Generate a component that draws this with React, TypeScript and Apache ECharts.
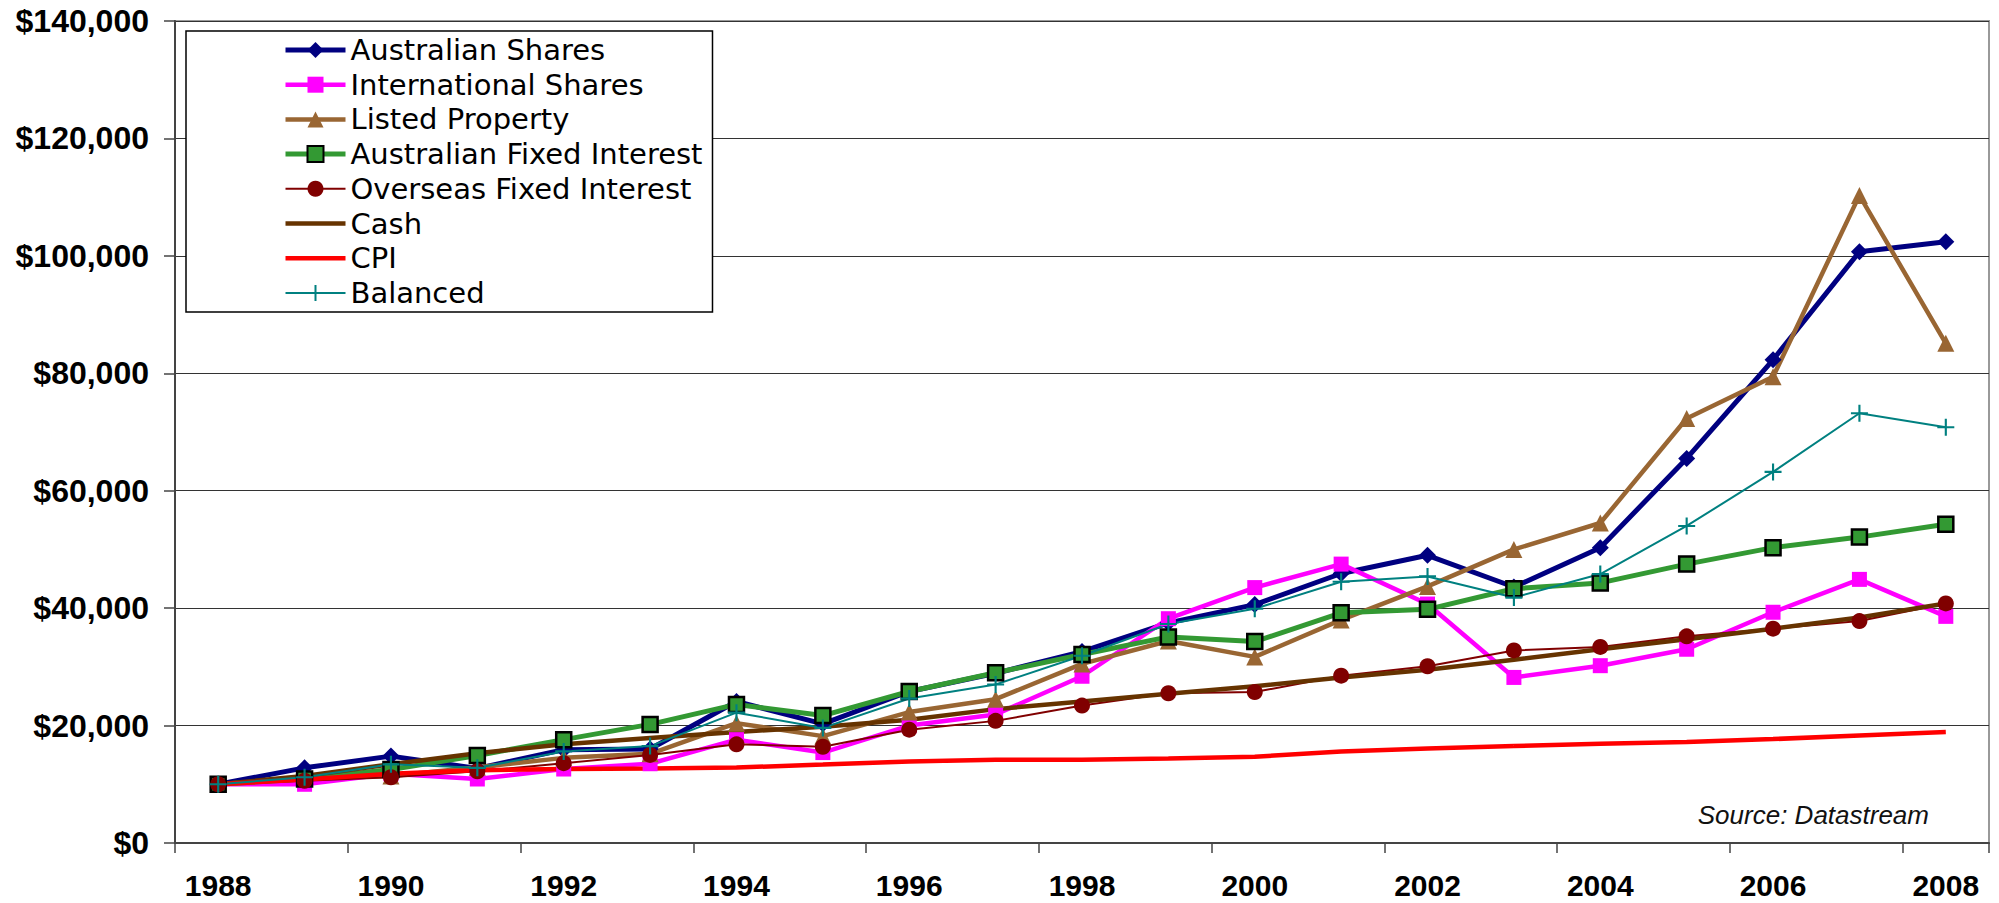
import React, { useEffect, useRef } from 'react';
import * as echarts from 'echarts';

const years = ['1988', '1989', '1990', '1991', '1992', '1993', '1994', '1995', '1996', '1997', '1998', '1999', '2000', '2001', '2002', '2003', '2004', '2005', '2006', '2007', '2008'];
const yTicks = [0, 20000, 40000, 60000, 80000, 100000, 120000, 140000];

const australianShares = [10000, 12800, 14800, 12700, 15900, 16000, 24100, 20300, 25800, 28900, 32600, 37500, 40600, 45900, 49000, 43600, 50300, 65500, 82300, 100700, 102400];
const internationalShares = [10000, 10000, 11800, 10900, 12600, 13500, 17600, 15400, 20000, 21900, 28400, 38200, 43500, 47500, 40700, 28200, 30200, 33000, 39300, 44900, 38600];
const listedProperty = [10000, 11100, 11400, 12900, 14500, 15200, 20400, 18200, 22300, 24500, 30500, 34400, 31700, 38000, 43700, 50000, 54500, 72300, 79400, 110300, 85100];
const australianFixedInterest = [10000, 10900, 12500, 14900, 17600, 20200, 23600, 21700, 25800, 29000, 32100, 35100, 34300, 39200, 39800, 43300, 44300, 47500, 50300, 52100, 54300];
const overseasFixedInterest = [10000, 10600, 11200, 12200, 13600, 15000, 16800, 16400, 19300, 20800, 23400, 25500, 25700, 28500, 30100, 32800, 33400, 35200, 36500, 37800, 40800];
const cash = [10000, 11400, 13400, 15300, 16800, 17900, 18900, 19800, 21000, 22800, 24100, 25400, 26700, 28200, 29500, 31200, 33000, 34700, 36500, 38400, 40800];
const cpi = [10000, 10800, 11800, 12400, 12600, 12700, 12850, 13350, 13900, 14200, 14200, 14400, 14700, 15600, 16100, 16500, 16900, 17200, 17700, 18300, 18900];
const balanced = [10000, 11200, 13400, 12800, 15600, 16500, 22200, 19600, 24600, 27000, 31900, 37300, 39900, 44500, 45400, 41800, 45800, 54000, 63200, 73200, 70800];

const PLUS = 'path://M7,0 L9,0 L9,7 L16,7 L16,9 L9,9 L9,16 L7,16 L7,9 L0,9 L0,7 L7,7 Z';

function fmt(v: number): string {
  return '$' + String(v).replace(/\B(?=(\d{3})+(?!\d))/g, ',');
}

export default function App() {
  const ref = useRef<HTMLDivElement>(null);
  useEffect(() => {
    if (!ref.current) return;
    const chart = echarts.init(ref.current, undefined, { renderer: 'svg' });
    const mk = (name: string, data: number[], color: string, width: number, symbol: string, size: number, extra: any = {}) => ({
      name,
      type: 'line',
      data,
      showAllSymbol: true,
      symbol,
      symbolSize: size,
      lineStyle: { color, width },
      itemStyle: { color, borderWidth: 0, ...extra },
      emphasis: { disabled: true },
      z: 2,
    });
    const option: any = {
      animation: false,
      backgroundColor: '#ffffff',
      grid: {
        left: 175, right: 10, top: 21, bottom: 60,
        show: true, borderColor: '#999999', borderWidth: 2, backgroundColor: 'transparent',
        outerBoundsMode: 'none',
      },
      legend: {
        orient: 'vertical',
        left: 186,
        top: 31,
        padding: [4, 10, 4, 97],
        itemWidth: 60,
        itemHeight: 20,
        itemGap: 4.7,
        backgroundColor: '#ffffff',
        borderColor: '#000000',
        borderWidth: 1.5,
        borderRadius: 0,
        selectedMode: false,
        lineStyle: { width: 'inherit' },
        textStyle: { fontFamily: 'DejaVu Sans', fontSize: 29, color: '#000000', lineHeight: 30 },
        data: [
          { name: 'Australian Shares' },
          { name: 'International Shares' },
          { name: 'Listed Property' },
          { name: 'Australian Fixed Interest' },
          { name: 'Overseas Fixed Interest' },
          { name: 'Cash', itemStyle: { opacity: 0 } },
          { name: 'CPI', itemStyle: { opacity: 0 } },
          { name: 'Balanced' },
        ],
      },
      xAxis: {
        type: 'category',
        data: years,
        boundaryGap: true,
        axisLine: { lineStyle: { color: '#444444', width: 2 } },
        axisTick: { show: true, interval: 1, length: 10, lineStyle: { color: '#444444', width: 1.5 } },
        axisLabel: {
          interval: 1,
          margin: 27,
          fontFamily: 'Liberation Sans',
          fontWeight: 'bold',
          fontSize: 30,
          color: '#000000',
        },
        splitLine: { show: false },
      },
      yAxis: {
        type: 'value',
        min: yTicks[0],
        max: yTicks[yTicks.length - 1],
        interval: yTicks[1] - yTicks[0],
        axisLine: { show: true, lineStyle: { color: '#444444', width: 2 } },
        axisTick: { show: true, length: 11, lineStyle: { color: '#444444', width: 1.5 } },
        axisLabel: {
          margin: 26,
          fontFamily: 'Liberation Sans',
          fontWeight: 'bold',
          fontSize: 32,
          color: '#000000',
          formatter: (v: number) => fmt(v),
        },
        splitLine: { show: true, lineStyle: { color: '#333333', width: 1.2 } },
      },
      graphic: [
        {
          type: 'text',
          x: 1929,
          y: 815,
          z: 10,
          style: {
            text: 'Source: Datastream',
            fontFamily: 'Liberation Sans',
            fontStyle: 'italic',
            fontSize: 26,
            fill: '#111111',
            align: 'right',
            verticalAlign: 'middle',
          },
        },
      ],
      series: [
        mk('Australian Shares', australianShares, '#000080', 5, 'diamond', 17),
        mk('International Shares', internationalShares, '#ff00ff', 4.5, 'rect', 15),
        mk('Listed Property', listedProperty, '#996633', 4.5, 'triangle', 17),
        mk('Australian Fixed Interest', australianFixedInterest, '#339933', 5, 'rect', 15, { borderColor: '#000000', borderWidth: 2.5 }),
        mk('Overseas Fixed Interest', overseasFixedInterest, '#800000', 2, 'circle', 16),
        mk('Cash', cash, '#663300', 4.5, 'none', 0),
        mk('CPI', cpi, '#ff0000', 4.5, 'none', 0),
        mk('Balanced', balanced, '#008080', 2, PLUS, 17),
      ],
    };
    chart.setOption(option);
    return () => chart.dispose();
  }, []);
  return <div ref={ref} style={{ position: 'absolute', left: 0, top: 0, width: 1999, height: 903 }} />;
}
